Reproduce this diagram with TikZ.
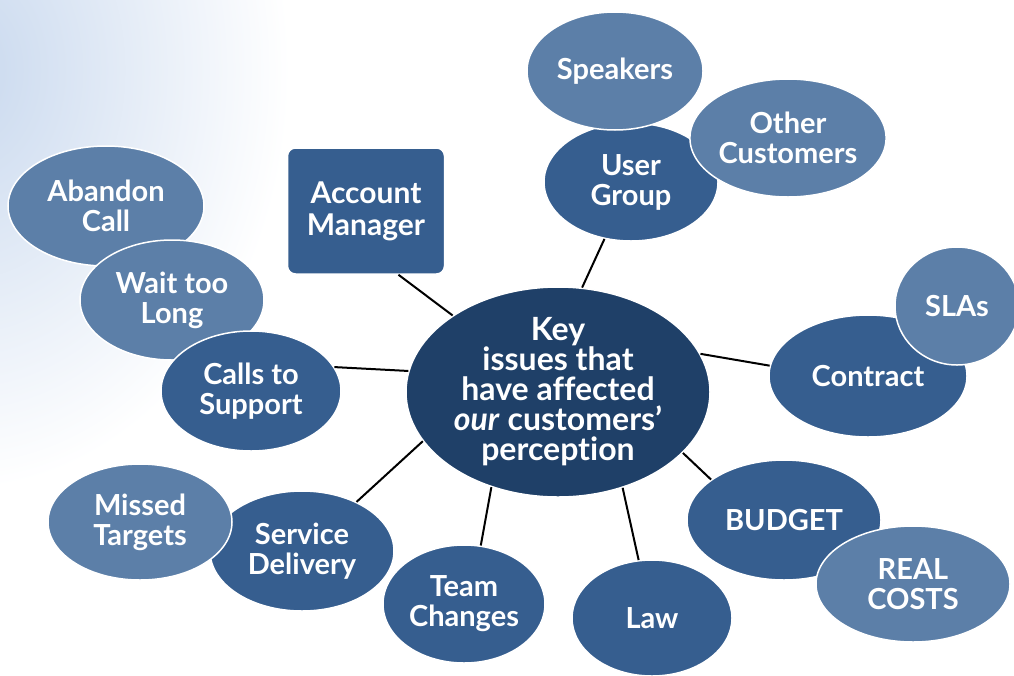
\documentclass[tikz,border=0pt]{standalone}
\usepackage{fontspec}
\setmainfont{Lato}[Ligatures=NoCommon]
\usetikzlibrary{shapes.geometric}
\definecolor{lightb}{RGB}{92,127,168}
\definecolor{darkb}{RGB}{54,94,143}
\definecolor{centerb}{RGB}{31,64,104}
\definecolor{bgb}{RGB}{200,216,238}
\tikzset{
  bub/.style={ellipse, draw=white, line width=1.5pt, inner sep=0pt, text=white, align=center,
    font=\fontsize{29}{30}\selectfont\bfseries},
  lightbub/.style={bub, fill=lightb},
  darkbub/.style={bub, fill=darkb},
  conn/.style={draw=black, line width=2pt},
}
\begin{document}
\begin{tikzpicture}[x=1pt,y=-1pt]
\useasboundingbox (0,0) rectangle (1014,675);
\fill[white] (0,0) rectangle (1014,675);
\begin{scope}
\clip (0,0) rectangle (1014,675);
\shade[inner color=bgb, outer color=white] (-40,70) ellipse [x radius=330, y radius=420];
\end{scope}

% central node
\node[bub, fill=centerb, minimum width=304pt, minimum height=196pt, font=\fontsize{32}{30}\selectfont\bfseries] (c) at (558,392)
  {Key\\issues that\\have affected\\\textit{our} customers’\\perception};

% account manager
\node[draw=white, line width=1.5pt, fill=darkb, rounded corners=8pt, minimum width=157pt, minimum height=126pt,
  text=white, align=center, font=\fontsize{30}{32}\selectfont\bfseries, inner sep=0pt] (am) at (366,211) {Account\\Manager};

% left group
\node[lightbub, minimum width=196pt, minimum height=120pt] (ab) at (106,206) {Abandon\\Call};
\node[lightbub, minimum width=184pt, minimum height=120pt] (wt) at (172,300) {Wait too\\Long};
\node[darkbub, minimum width=180pt, minimum height=120pt] (cs) at (251,391) {Calls to\\Support};

% bottom left
\node[darkbub, minimum width=184pt, minimum height=120pt] (sd) at (302,551) {Service\\Delivery};
\node[lightbub, minimum width=184pt, minimum height=116pt] (mt) at (140,522) {Missed\\Targets};
\node[darkbub, minimum width=162pt, minimum height=118pt] (tc) at (464,604) {Team\\Changes};
\node[darkbub, minimum width=160pt, minimum height=116pt] (law) at (652,618) {Law};

% bottom right
\node[darkbub, minimum width=194pt, minimum height=120pt] (bu) at (784,520) {BUDGET};
\node[lightbub, minimum width=194pt, minimum height=116pt] (rc) at (913,584) {REAL\\COSTS};

% right
\node[darkbub, minimum width=198pt, minimum height=122pt] (ct) at (868,376) {Contract};
\node[lightbub, minimum width=124pt, minimum height=118pt] (sla) at (957,306) {SLAs};

% top
\node[darkbub, minimum width=174pt, minimum height=118pt] (ug) at (631,182) {User\\Group};
\node[lightbub, minimum width=176pt, minimum height=118pt] (sp) at (615,71) {Speakers};
\node[lightbub, minimum width=196pt, minimum height=118pt] (oc) at (788,138) {Other\\Customers};

% connectors
\draw[conn] (c.144) -- (am.297);
\draw[conn] (c.77) -- (ug.245);
\draw[conn] (c.15.7) -- (ct.174);
\draw[conn] (c.-26) -- (bu.151.6);
\draw[conn] (c.-56) -- (law.103);
\draw[conn] (c.235) -- (tc.74);
\draw[conn] (c.200) -- (sd.42);
\draw[conn] (c.172) -- (cs.16);
\end{tikzpicture}
\end{document}
